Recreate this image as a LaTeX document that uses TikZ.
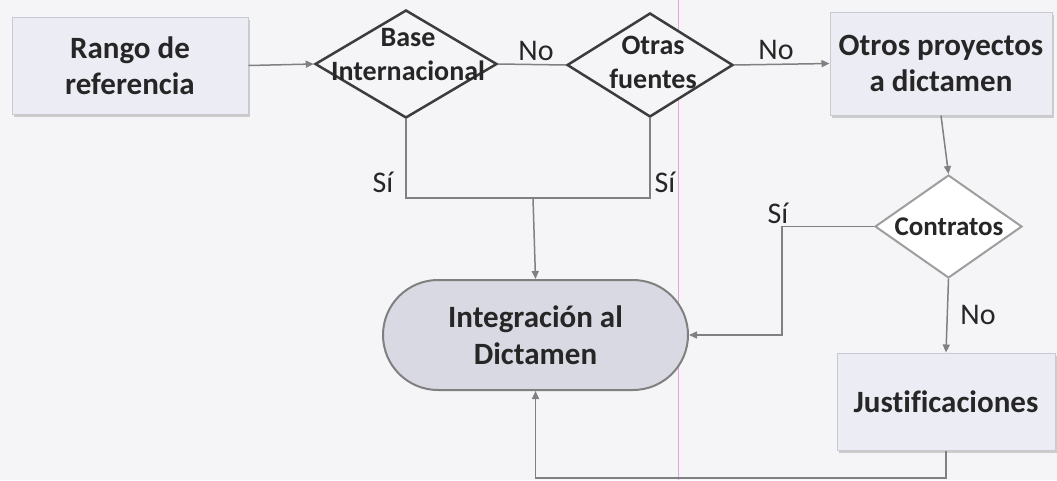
\documentclass[tikz,border=0pt]{standalone}
\usepackage{fontspec}
\setmainfont{Carlito}[Ligatures=NoCommon]
\usetikzlibrary{shapes.geometric,shapes.misc,arrows.meta,shadows}
\definecolor{bgc}{HTML}{F5F5F7}
\definecolor{boxfill}{HTML}{ECECF4}
\definecolor{boxline}{HTML}{C9C9D2}
\definecolor{intfill}{HTML}{D9D9E3}
\definecolor{conn}{HTML}{808080}
\definecolor{dline}{HTML}{3C3C3C}
\definecolor{pinkline}{HTML}{E6A6DC}
\tikzset{
  procbox/.style={draw=boxline, line width=1pt, fill=boxfill, inner sep=0pt, align=center,
    font=\bfseries\fontsize{31}{36}\selectfont, text=black!85,
    drop shadow={shadow xshift=2pt, shadow yshift=-3pt, opacity=.35, fill=gray}},
  decis/.style={diamond, draw=dline, line width=2.5pt, fill=bgc, inner sep=0pt},
  decis2/.style={diamond, draw=black!38, line width=2pt, fill=white, inner sep=0pt},
  dtext/.style={align=center, inner sep=0pt, font=\bfseries\fontsize{28}{34}\selectfont, text=black!85},
  lbl/.style={inner sep=0pt, font=\fontsize{30}{34}\selectfont, text=black!85},
  conline/.style={draw=conn, line width=1.5pt},
  arr/.style={conline, -{Triangle[length=8pt,width=7pt]}},
}
\begin{document}
\begin{tikzpicture}[x=1pt,y=-1pt]
\useasboundingbox[fill=bgc] (0,0) rectangle (1057,480);
\draw[pinkline, line width=1pt] (678,0) -- (678,480);

\node[procbox, minimum width=236pt, minimum height=97pt] (rango) at (130,65.5) {Rango de\\referencia};
\node[decis, minimum width=182pt, minimum height=108pt] (bi) at (406,64) {};
\node[dtext] (bitext) at (408,55) {Base\\Internacional};
\node[decis, minimum width=166pt, minimum height=104pt] (of) at (650,65) {};
\node[dtext] (oftext) at (653,62) {Otras\\fuentes};
\node[procbox, minimum width=222pt, minimum height=103pt] (op) at (941,63.5) {Otros proyectos\\a dictamen};
\node[decis2, minimum width=147pt, minimum height=103pt] (ct) at (948.5,226.5) {};
\node[dtext, font=\bfseries\fontsize{27}{34}\selectfont] (cttext) at (949,227) {Contratos};
\node[procbox, minimum width=218pt, minimum height=97pt] (ju) at (946,401.5) {Justificaciones};
\node[rounded rectangle, draw=conn, line width=2pt, fill=intfill, minimum width=305pt, minimum height=110pt,
  inner sep=0pt, align=center, font=\bfseries\fontsize{31}{37}\selectfont, text=black!85] (int) at (535.5,335) {Integración al\\Dictamen};

\coordinate (j1) at (533,198);
\coordinate (c1) at (782,226.5);
\coordinate (b1) at (946,478);

\draw[arr] (rango.east) -- (bi.west);
\draw[conline] (bi.east) -- (of.west);
\node[lbl] (no1) at (536,51) {No};
\draw[arr] (of.east) -- (op.west);
\node[lbl] (no2) at (776,50) {No};
\draw[arr] (op.south) -- (ct.north);
\draw[arr] (ct.south) -- (ju.north);
\node[lbl] (no3) at (978,315) {No};
\draw[conline] (bi.south) |- (j1) -| (of.south);
\draw[arr] (j1) -- (int.north);
\node[lbl] (si1) at (383,182) {Sí};
\node[lbl] (si2) at (665,182) {Sí};
\draw[arr] (ct.west) -- (c1) |- (int.east);
\node[lbl] (si3) at (778,213) {Sí};
\draw[arr] (ju.south) -- (b1) -| (int.south);
\end{tikzpicture}
\end{document}
